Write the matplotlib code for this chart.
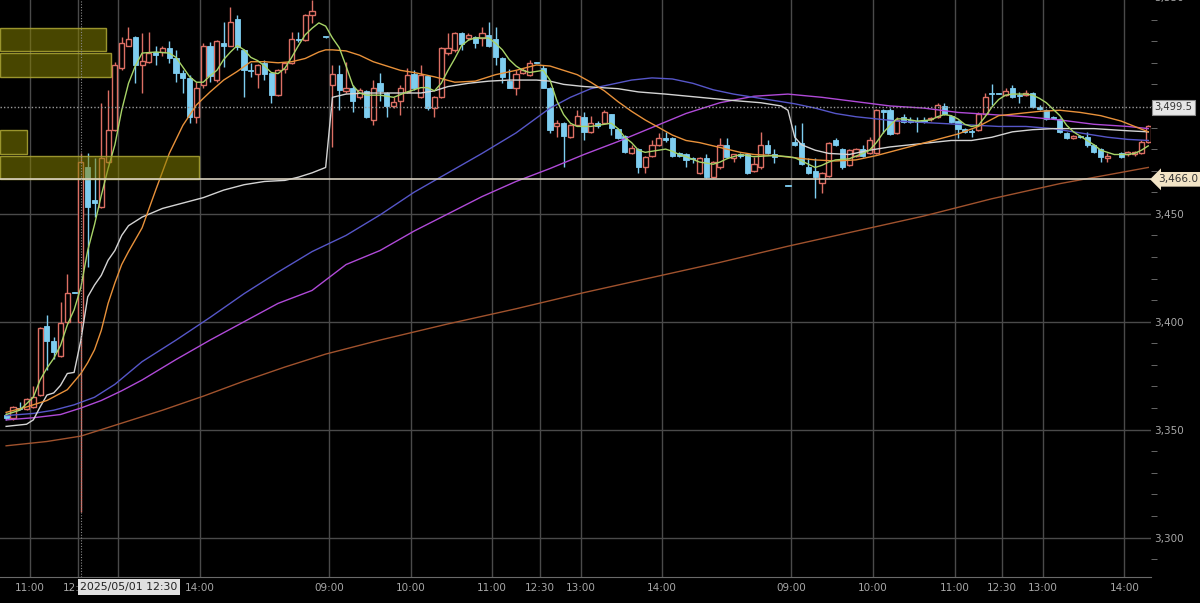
import numpy as np
import pandas as pd
import matplotlib
matplotlib.use("Agg")
import matplotlib.pyplot as plt
import matplotlib.transforms as mtransforms
from matplotlib.patches import Rectangle

nan = np.nan

# 5-minute bars, three sessions (2025/05/01, 05/02, 05/07)
sessions = [
    ("2025-05-01", [("10:40", "11:30"), ("12:30", "15:30")]),
    ("2025-05-02", [("09:00", "11:30"), ("12:30", "15:30")]),
    ("2025-05-07", [("09:00", "11:30"), ("12:30", "14:15")]),
]

# day 1
o1 = [3357, 3355.5, 3360, 3359.5, 3360.5, 3366, 3398, 3391, 3384, 3400, 3414, 3400, 3471.5, 3456.5, 3453, 3474,
      3489, 3517.5, 3528, 3532, 3519, 3520.5, 3525, 3525, 3527, 3522, 3515.5, 3513, 3495, 3509.5, 3528, 3512,
      3529, 3528, 3540.5, 3526, 3516.5, 3515, 3520, 3515.5, 3505, 3517, 3520, 3531, 3530.5, 3542, nan, 3532]
h1 = [3357.5, 3361, 3363, 3364.5, 3370, 3397.5, 3403, 3393, 3409, 3422, 3414, 3478, 3478, 3476, 3501.5, 3507.5,
      3520.5, 3532, 3536.5, 3532.5, 3534, 3534.5, 3528, 3528, 3530, 3526, 3516.5, 3514.5, 3511, 3529, 3529.5, 3530.5,
      3539, 3546, 3542, 3526.5, 3520, 3519.5, 3521.5, 3515.5, 3517, 3520.5, 3534.5, 3534.5, 3542.5, 3549, nan, 3532]
l1 = [3354.5, 3354.5, 3359, 3359, 3360, 3365.5, 3377.5, 3382.5, 3383.5, 3399.5, 3413.5, 3312, 3425.5, 3448.5, 3452.5, 3473.5,
      3488.5, 3516.5, 3528, 3510.5, 3506, 3520, 3519, 3523, 3520, 3511, 3506, 3492, 3492, 3508.5, 3511, 3511,
      3518, 3528, 3526, 3504, 3513.5, 3508.5, 3512, 3501.5, 3504.5, 3515.5, 3519.5, 3529.5, 3530, 3538.5, nan, 3531.5]
c1 = [3355.5, 3360.5, 3359.5, 3364, 3365, 3397, 3391, 3386, 3399.5, 3413.5, 3413.5, 3474, 3453, 3455, 3476, 3489,
      3519, 3529, 3531, 3519, 3521, 3524.5, 3523.5, 3527, 3522, 3515.5, 3513, 3495, 3508.5, 3528, 3514, 3530,
      3528, 3539, 3527.5, 3516.5, 3516, 3519, 3515, 3505, 3516.5, 3520, 3531, 3530.5, 3542, 3544, nan, 3532]

# day 2
o2 = [3509.5, 3515, 3507, 3508.5, 3504, 3507, 3493.5, 3510.5, 3506, 3500, 3502.5, 3506.5, 3515, 3504, 3514, 3499,
      3504, 3524.5, 3526, 3534, 3531.5, 3532, 3531.5, 3533, 3531, 3522, 3511.5, 3508.5, 3515.5, 3514.5, 3520.5,
      3517.5, 3508.5, 3490.5, 3492, 3485.5, 3491, 3495, 3488, 3492, 3492, 3496.5, 3489.5, 3486, 3478, 3480, 3471.5,
      3477, 3482, 3485, 3485, 3478, 3477.5, 3476, 3469, 3476, 3467, 3471.5, 3482, 3476, 3477.5, 3477.5, 3470,
      3471.5, 3482, 3477.5, nan, 3463.5]
h2 = [3519, 3519, 3520.5, 3509.5, 3508.5, 3507.5, 3512, 3515.5, 3506.5, 3504, 3509.5, 3517.5, 3516.5, 3519, 3514.5, 3504.5,
      3527.5, 3534, 3534.5, 3534.5, 3534, 3532.5, 3536.5, 3539, 3536.5, 3522.5, 3517, 3516.5, 3517.5, 3521.5, 3520.5,
      3519, 3509, 3493.5, 3492.5, 3491.5, 3498, 3497, 3495.5, 3493, 3498, 3496.5, 3490, 3486.5, 3482, 3480.5, 3477,
      3484, 3487.5, 3488, 3485.5, 3478.5, 3478, 3476.5, 3476.5, 3477.5, 3474.5, 3485, 3485, 3477.5, 3478, 3478, 3476.5,
      3488, 3484, 3480, nan, 3463.5]
l2 = [3481, 3498, 3506, 3497, 3503, 3494.5, 3491, 3502.5, 3495, 3499, 3496, 3506, 3507.5, 3503.5, 3498, 3495,
      3503.5, 3523.5, 3525, 3526, 3530.5, 3527, 3528, 3527.5, 3519, 3510.5, 3508.5, 3505, 3515, 3514, 3520,
      3508.5, 3487.5, 3485.5, 3471.5, 3485, 3490.5, 3484, 3487.5, 3490, 3491.5, 3486.5, 3484.5, 3478, 3477.5, 3469, 3469,
      3476.5, 3481.5, 3483.5, 3476.5, 3476.5, 3471.5, 3473.5, 3468.5, 3466.5, 3466.5, 3471, 3476, 3474, 3476, 3468.5, 3469.5,
      3471, 3477.5, 3473.5, nan, 3463]
c2 = [3515, 3507.5, 3508.5, 3502.5, 3507.5, 3495, 3508.5, 3507, 3500, 3502, 3508.5, 3514.5, 3508.5, 3514.5, 3499, 3504,
      3527, 3527, 3534, 3528.5, 3533, 3529, 3534, 3528, 3522.5, 3513.5, 3508.5, 3515, 3516.5, 3520, 3520,
      3508.5, 3489, 3492, 3486, 3491, 3495.5, 3488, 3492, 3490.5, 3497, 3490, 3485, 3478.5, 3480.5, 3471.5, 3476.5,
      3482, 3485, 3484, 3477, 3477, 3475, 3475.5, 3476, 3467, 3474, 3482, 3476.5, 3477.5, 3477, 3469, 3473,
      3482, 3478, 3476.5, nan, 3463]

# day 3
o3 = [3483.5, 3483, 3471.5, 3470, 3464.5, 3467.5, 3484, 3480, 3472.5, 3477, 3480, 3478, 3478, 3498, 3498, 3487.5,
      3495, 3493.5, 3493, 3493.5, 3494, 3495, 3500, 3495.5, 3493, 3489.5, 3488.5, 3489, 3496.5, 3506, 3506,
      3505, 3508.5, 3505, 3505, 3506, 3499.5, 3498, 3495, 3494, 3487.5, 3485, 3486, 3485.5, 3482, 3480, 3476, nan,
      3478, 3477.5, 3477.5, 3478, 3483.5]
h3 = [3491, 3492, 3476, 3476, 3469.5, 3483.5, 3485, 3480.5, 3480, 3480.5, 3482, 3485.5, 3498.5, 3498.5, 3499, 3495,
      3496.5, 3495, 3495, 3495, 3495, 3501.5, 3501.5, 3496, 3493.5, 3490, 3489.5, 3497, 3506, 3510, 3506,
      3508.5, 3509.5, 3506.5, 3507.5, 3506.5, 3500.5, 3498.5, 3495.5, 3494.5, 3488, 3486.5, 3486.5, 3488, 3482.5, 3480.5, 3478, nan,
      3478.5, 3479, 3479, 3484, 3491]
l3 = [3481.5, 3472.5, 3468.5, 3457.5, 3459.5, 3467, 3481.5, 3471, 3472, 3476.5, 3476.5, 3477.5, 3477.5, 3487.5, 3486.5, 3487,
      3492, 3492, 3488, 3492, 3493, 3494.5, 3496, 3492, 3485, 3487.5, 3485.5, 3488.5, 3496, 3500.5, 3505.5,
      3504.5, 3503.5, 3501.5, 3504.5, 3499, 3498, 3493.5, 3494, 3487.5, 3484.5, 3484.5, 3485, 3481, 3478, 3474, 3474, nan,
      3476, 3477, 3477, 3477.5, 3483]
c3 = [3482, 3473, 3469, 3467, 3469, 3483, 3482, 3471.5, 3479.5, 3480, 3477, 3484, 3498, 3497, 3487, 3493.5,
      3492.5, 3492.5, 3492.5, 3492.5, 3494.5, 3500.5, 3496.5, 3492.5, 3489.5, 3488, 3488, 3496.5, 3504, 3505.5, 3505.5,
      3507, 3504, 3504.5, 3506, 3499.5, 3498.5, 3494, 3494.5, 3488, 3485, 3486, 3485.5, 3482, 3478.5, 3476.5, 3477, nan,
      3476.5, 3478.5, 3478.5, 3483.5, 3490.5]

# moving averages / vwap, read at bar indices
green_i = [0, 2, 4, 5, 6, 7, 8, 9, 10, 11, 12, 13, 14, 15, 16, 17, 18, 19, 20, 22, 24, 25, 26, 27, 28, 29, 30, 31, 32,
           33, 34, 35, 36, 37, 38, 39, 40, 41, 42, 43, 44, 45, 46, 47, 48, 49, 50, 51, 52, 53, 55, 57, 59, 61, 62, 63,
           64, 65, 66, 67, 68, 69, 71, 72, 73, 74, 75, 76, 77, 78, 79, 80, 81, 82, 83, 84, 86, 88, 89, 90, 91, 92, 93,
           94, 96, 97, 98, 99, 100, 102, 104, 105, 106, 107, 108, 109, 110, 113, 115, 116, 117, 118, 119, 120, 121, 122,
           124, 126, 127, 128, 129, 130, 131, 132, 134, 136, 137, 138, 139, 140, 141, 142, 143, 144, 145, 146, 147, 148,
           150, 151, 152, 153, 154, 155, 156, 157, 158, 159, 160, 161, 162, 163, 164, 165, 166, 167, 168]
green_v = [3357, 3359, 3365, 3373, 3378.5, 3383, 3389, 3398.5, 3405.5, 3416, 3433, 3445, 3458.5, 3471, 3482, 3498, 3510.5,
           3518.5, 3524.5, 3525, 3524.5, 3522.5, 3518, 3513.5, 3511, 3511, 3514, 3516.5, 3521.5, 3525, 3528, 3526,
           3522.5, 3521, 3518.5, 3515.5, 3515, 3517.5, 3522.5, 3528, 3533, 3536, 3538.5, 3537, 3531.5, 3527, 3518.5,
           3509.5, 3506, 3505, 3505, 3504, 3506.5, 3508.5, 3508.5, 3507, 3510.5, 3516.5, 3522, 3528, 3530.5, 3531.5,
           3531.5, 3529, 3526, 3521.5, 3518.5, 3516.5, 3515.5, 3516, 3516.5, 3512, 3502.5, 3496, 3492, 3490.5, 3490.5,
           3491.5, 3492, 3489.5, 3485.5, 3483, 3479.5, 3478.5, 3479.5, 3480, 3479, 3477.5, 3476.5, 3474, 3473, 3474,
           3475.5, 3476.5, 3477.5, 3477, 3476.5, 3477, 3476.5, 3476, 3474.5, 3473, 3471.5, 3472.5, 3474, 3475, 3475.5,
           3478, 3479.5, 3483, 3487.5, 3491, 3494, 3494, 3493, 3493.5, 3495, 3496, 3495.5, 3494, 3491.5, 3490.5, 3491,
           3495, 3499.5, 3503, 3505, 3505.5, 3505.5, 3505, 3503.5, 3501.5, 3498.5, 3495.5, 3491, 3488, 3486, 3484,
           3482, 3479.5, 3478.5, 3477.5, 3477.5, 3477.5, 3478, 3479.5, 3481.5]

orange_i = [0, 3, 6, 9, 11, 12, 13, 14, 15, 16, 17, 18, 20, 22, 24, 26, 28, 30, 32, 34, 36, 38, 40, 42, 44, 46, 47, 48,
            50, 52, 54, 56, 58, 60, 63, 66, 69, 72, 75, 78, 80, 82, 84, 86, 88, 90, 92, 94, 96, 98, 100, 102, 104, 106,
            108, 110, 113, 116, 119, 122, 125, 128, 131, 134, 137, 140, 143, 146, 149, 152, 155, 158, 161, 164, 166, 168]
orange_v = [3358, 3360.5, 3363.5, 3368.5, 3376, 3381, 3387, 3396, 3408.5, 3418, 3426.5, 3432.5, 3443.5, 3461, 3478, 3491,
            3500.5, 3506.5, 3512, 3516, 3520.5, 3520.5, 3520, 3520.5, 3522, 3525, 3526, 3526, 3525.5, 3523.5, 3520.5,
            3518.5, 3516.5, 3515.5, 3513.5, 3511, 3511.5, 3514.5, 3516.5, 3519, 3518.5, 3516.5, 3514.5, 3511, 3507,
            3502, 3497.5, 3493.5, 3490, 3486.5, 3484, 3483, 3481.5, 3480, 3478.5, 3477.5, 3477, 3476, 3475, 3474.5,
            3475, 3477, 3479.5, 3482, 3484.5, 3487, 3490.5, 3495.5, 3496.5, 3497.5, 3498, 3497, 3495.5, 3493, 3490.5, 3488]

white_i = [0, 3, 4, 5, 6, 7, 8, 9, 10, 11, 12, 13, 14, 15, 16, 17, 18, 20, 23, 26, 29, 32, 35, 38, 41, 43, 45, 47,
           48, 50, 53, 57, 61, 63, 65, 68, 71, 74, 78, 80, 82, 85, 90, 93, 97, 102, 107, 111, 114, 115,
           116, 117, 119, 121, 124, 127, 130, 133, 136, 139, 142, 145, 148, 151, 154, 160, 165, 168]
white_v = [3351.5, 3352.5, 3354.5, 3360.5, 3366, 3367, 3370.5, 3376, 3376.5, 3391.5, 3411.5, 3417, 3421.5, 3428.5, 3433,
           3440, 3444.5, 3448.5, 3452.5, 3455, 3457.5, 3461, 3463.5, 3465, 3465.5, 3467, 3469, 3471.5,
           3504, 3505.5, 3506, 3506, 3506, 3507, 3509, 3510.5, 3511.5, 3512, 3512, 3511.5, 3510, 3509, 3508, 3506.5,
           3505.5, 3504, 3502.5, 3501.5, 3500, 3498,
           3485.5, 3482, 3479.5, 3478, 3477.5, 3479.5, 3481, 3482, 3483, 3484, 3484, 3485.5, 3488, 3489, 3489.5,
           3489.5, 3488.5, 3488]

blue_i = [0, 4, 7, 10, 13, 16, 20, 25, 30, 35, 40, 45, 50, 55, 60, 65, 70, 75, 80, 83, 86, 89, 92, 95, 98, 101, 104,
          107, 110, 113, 116, 119, 122, 125, 128, 131, 134, 137, 140, 143, 146, 150, 154, 158, 162, 165, 168]
blue_v = [3356.5, 3357.5, 3359, 3361.5, 3365, 3371, 3381.5, 3391.5, 3402, 3413, 3423, 3432.5, 3440, 3449.5, 3460, 3469,
          3478, 3487.5, 3499, 3504, 3508, 3510, 3512, 3513, 3512.5, 3510.5, 3507.5, 3505.5, 3504, 3502.5, 3501,
          3499, 3496.5, 3495, 3494, 3493, 3492.5, 3492, 3491.5, 3491, 3490.5, 3490.5, 3489.5, 3487.5, 3485.5,
          3484.5, 3484]

purple_i = [0, 4, 8, 11, 14, 17, 20, 25, 30, 35, 40, 45, 50, 55, 60, 65, 70, 75, 80, 85, 90, 95, 100, 105, 110, 115,
            120, 125, 130, 135, 140, 145, 150, 155, 160, 165, 168]
purple_v = [3354.5, 3355.5, 3357, 3360, 3363.5, 3368, 3373, 3382.5, 3391.5, 3400, 3408.5, 3414.5, 3426.5, 3433, 3442,
            3450, 3458, 3465, 3471, 3477.5, 3483.5, 3490, 3496.5, 3501.5, 3504.5, 3505.5, 3504, 3502, 3500, 3499,
            3497, 3496, 3495, 3493.5, 3491.5, 3490.5, 3489.5]

brown_i = [0, 6, 11, 17, 23, 29, 35, 41, 47, 55, 65, 75, 85, 95, 105, 115, 125, 135, 145, 155, 168]
brown_v = [3342.5, 3344.5, 3347, 3353, 3359, 3365.5, 3372.5, 3379, 3385, 3391.5, 3399, 3406, 3413.5, 3420.5, 3427.5,
           3435, 3442, 3449, 3457, 3464, 3471.5]

# volume-at-price blocks on the left (price band, length in bars)
zone_lo = [3525.5, 3513.5, 3477.5, 3466.0]
zone_hi = [3536.0, 3524.5, 3489.0, 3477.0]
zone_len = [15.6, 16.3, 3.9, 29.3]

line_price = 3466.0
dotted_price = 3499.5
cursor_bar = 11
tick_times = ["09:00", "10:00", "11:00", "12:30", "13:00", "14:00"]

# ---------------------------------------------------------------
times = []
for day, parts in sessions:
    for a, b in parts:
        times += list(pd.date_range(f"{day} {a}", f"{day} {b}", freq="5min"))

o = np.array(o1 + o2 + o3, dtype=float)
h = np.array(h1 + h2 + h3, dtype=float)
l = np.array(l1 + l2 + l3, dtype=float)
c = np.array(c1 + c2 + c3, dtype=float)
x = np.arange(len(c))

BG = "#000000"
RED = "#dc6f64"
BLUE = "#7ecdf0"
GRID = "#4a4a4a"
TXT = "#a8a8a8"

fig = plt.figure(figsize=(12, 6.03), dpi=100, facecolor=BG)
ax = fig.add_axes([0, 26 / 603, 1151 / 1200, 577 / 603], facecolor=BG)
ax.set_xlim(-0.9, 168.4)
ax.set_ylim(3281.7, 3549.1)

# grid
tick_pos = [i - 0.5 for i, t in enumerate(times) if t.strftime("%H:%M") in tick_times]
tick_lab = [times[i].strftime("%H:%M") for i, t in enumerate(times) if t.strftime("%H:%M") in tick_times]
for p in tick_pos:
    ax.axvline(p, color=GRID, lw=1, zorder=1)
for yv in [3300, 3350, 3400, 3450]:
    ax.axhline(yv, color=GRID, lw=1, zorder=1)

# candles
valid = ~np.isnan(c)
up = valid & (c > o)
dn = valid & (c <= o)
ax.vlines(x[up], l[up], h[up], color=RED, lw=1, zorder=3)
ax.vlines(x[dn], l[dn], h[dn], color=BLUE, lw=1, zorder=3)
body = np.maximum(np.abs(c - o), 0.45)
ax.bar(x[up], body[up], bottom=o[up], width=0.76, facecolor=BG, edgecolor=RED, lw=1, zorder=4)
ax.bar(x[dn], body[dn], bottom=c[dn], width=0.76, facecolor=BLUE, edgecolor=BLUE, lw=0.6, zorder=4)

# averages
ax.plot(brown_i, brown_v, color="#a0522d", lw=1, zorder=5)
ax.plot(purple_i, purple_v, color="#b04ad8", lw=1, zorder=5)
ax.plot(blue_i, blue_v, color="#5656c8", lw=1, zorder=5)
ax.plot(white_i, white_v, color="#d4d4d4", lw=1, zorder=5)
ax.plot(orange_i, orange_v, color="#e8913a", lw=1, zorder=5)
ax.plot(green_i, green_v, color="#a8d468", lw=1, zorder=5)

# price blocks
for lo, hi, ln in zip(zone_lo, zone_hi, zone_len):
    ax.add_patch(Rectangle((-0.9, lo), ln, hi - lo, facecolor=(0.52, 0.5, 0.0, 0.55),
                           edgecolor=(0.66, 0.63, 0.2, 0.9), lw=1, zorder=6))

# horizontal lines and cursor
ax.axhline(line_price, color="#d8d0c0", lw=1.2, zorder=7)
ax.axhline(dotted_price, color="#9a9a9a", lw=1, ls=(0, (1, 1.5)), zorder=7)
ax.axvline(cursor_bar, color="#8a8a8a", lw=0.8, ls=(0, (1, 1.5)), zorder=7)

# axes styling
for s in ["top", "left", "right"]:
    ax.spines[s].set_visible(False)
ax.spines["bottom"].set_color("#6a6a6a")

ax.set_xticks(tick_pos)
ax.set_xticklabels(tick_lab)
ax.tick_params(axis="x", length=0, pad=4, labelsize=7.5, labelcolor=TXT)

ax.yaxis.tick_right()
yt = [3300, 3350, 3400, 3450]
ax.set_yticks(yt)
ax.set_yticklabels([f"{v:,}" for v in yt])
ax.set_yticks(np.arange(3290, 3550, 10), minor=True)
ax.tick_params(axis="y", which="major", length=0, pad=2, labelsize=7.5, labelcolor=TXT)
ax.tick_params(axis="y", which="minor", length=4.3, color="#777777")

ty = mtransforms.blended_transform_factory(ax.transAxes, ax.transData)
tx = mtransforms.blended_transform_factory(ax.transData, ax.transAxes)
ax.text(1 + 2.7 / 1151, 3550, "3,550", transform=ty, ha="left", va="center", fontsize=7.5, color=TXT, clip_on=False)
ax.text(1 + 3 / 1151, dotted_price, f"{dotted_price:,.1f}", transform=ty, ha="left", va="center", fontsize=7.2,
        color="#333333", clip_on=False, zorder=10,
        bbox=dict(boxstyle="square,pad=0.25", fc="#e6e6e6", ec="#8c8c8c", lw=0.8))
ax.text(1 + 7 / 1151, line_price, f"{line_price:,.1f}", transform=ty, ha="left", va="center", fontsize=7.6,
        color="#333333", clip_on=False, zorder=10,
        bbox=dict(boxstyle="larrow,pad=0.22", fc="#f2e4c6", ec="none"))
ax.text(cursor_bar - 0.1, -0.0175, times[cursor_bar].strftime("%Y/%m/%d %H:%M"), transform=tx, ha="left",
        va="center", fontsize=7.8, color="#222222", clip_on=False, zorder=10,
        bbox=dict(boxstyle="square,pad=0.25", fc="#e0e0e0", ec="none"))

fig.savefig("out.png", dpi=100, facecolor=BG)
